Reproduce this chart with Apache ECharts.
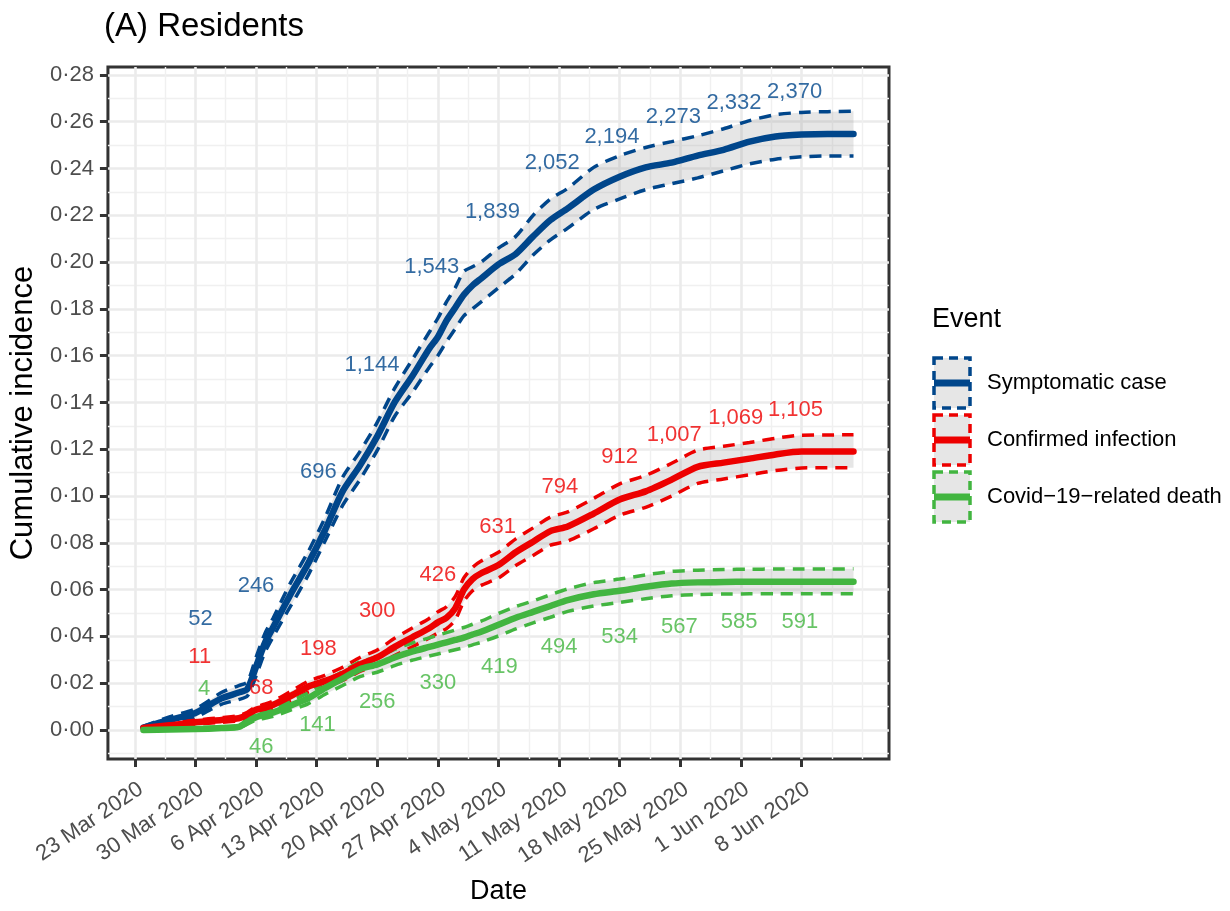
<!DOCTYPE html>
<html>
<head>
<meta charset="utf-8">
<script src="https://cdn.jsdelivr.net/npm/echarts@6/dist/echarts.min.js"></script>
<style>
html, body { margin: 0; padding: 0; background: #fff; }
#main { width: 1230px; height: 911px; }
</style>
</head>
<body>
<div id="main"></div>
<script>
// days since 23 Mar 2020
var days = [1, 4, 7, 10, 12, 13, 14, 15, 16, 18, 20, 22, 24, 26, 28, 30, 32, 34, 35, 36,
            37, 38, 39, 40, 42, 44, 46, 48, 50, 53, 56, 59, 62, 65, 68, 71, 74, 77, 80, 83];

// Symptomatic case
var blueEst = [0.001, 0.0043, 0.0073, 0.0135, 0.016, 0.0175, 0.027, 0.037, 0.044, 0.058,
               0.071, 0.0857, 0.102, 0.113, 0.1255, 0.140, 0.151, 0.163, 0.168, 0.175,
               0.1805, 0.186, 0.190, 0.193, 0.199, 0.2035, 0.211, 0.218, 0.223, 0.231,
               0.2365, 0.2405, 0.2425, 0.2455, 0.248, 0.2515, 0.2537, 0.2545, 0.2548, 0.2548];
var blueLo = [0.0005, 0.003, 0.0055, 0.011, 0.013, 0.0145, 0.023, 0.033, 0.040, 0.053,
              0.066, 0.081, 0.096, 0.107, 0.1195, 0.134, 0.144, 0.155, 0.160, 0.166,
              0.1715, 0.177, 0.180, 0.183, 0.189, 0.195, 0.203, 0.2095, 0.2145, 0.2225,
              0.227, 0.231, 0.2335, 0.236, 0.239, 0.242, 0.244, 0.245, 0.2454, 0.2454];
var blueHi = [0.0015, 0.0056, 0.009, 0.016, 0.019, 0.0205, 0.031, 0.041, 0.048, 0.063,
              0.076, 0.091, 0.108, 0.119, 0.1315, 0.146, 0.158, 0.170, 0.176, 0.183,
              0.189, 0.196, 0.198, 0.200, 0.206, 0.211, 0.220, 0.227, 0.2315, 0.2405,
              0.2455, 0.249, 0.2515, 0.254, 0.257, 0.2605, 0.263, 0.264, 0.2643, 0.2645];

// Confirmed infection
var redEst = [0.0009, 0.002, 0.0033, 0.0043, 0.005, 0.0064, 0.0086, 0.0095, 0.0108, 0.0145,
              0.0185, 0.021, 0.024, 0.028, 0.031, 0.0355, 0.0395, 0.0435, 0.046, 0.048,
              0.052, 0.060, 0.0645, 0.067, 0.0705, 0.076, 0.0805, 0.085, 0.087, 0.0925,
              0.0985, 0.102, 0.107, 0.1125, 0.1143, 0.116, 0.1178, 0.119, 0.119, 0.119];
var redLo = [0.0004, 0.0013, 0.0025, 0.0033, 0.0039, 0.0052, 0.0072, 0.0080, 0.0092, 0.0125,
             0.0162, 0.0185, 0.0212, 0.0250, 0.0278, 0.0318, 0.0355, 0.0393, 0.0415, 0.0433,
             0.0470, 0.0550, 0.0595, 0.0618, 0.0650, 0.0703, 0.0746, 0.0790, 0.0808, 0.0860,
             0.0918, 0.0952, 0.1000, 0.1054, 0.1073, 0.1091, 0.1109, 0.1120, 0.1121, 0.1121];
var redHi = [0.0014, 0.0027, 0.0042, 0.0053, 0.0061, 0.0076, 0.0100, 0.0110, 0.0124, 0.0165,
             0.0208, 0.0235, 0.0268, 0.0310, 0.0342, 0.0392, 0.0435, 0.0477, 0.0505, 0.0527,
             0.0570, 0.0650, 0.0695, 0.0722, 0.0760, 0.0817, 0.0864, 0.0910, 0.0932, 0.0990,
             0.1052, 0.1088, 0.1140, 0.1196, 0.1213, 0.1229, 0.1247, 0.1260, 0.1261, 0.1262];

// Covid-19-related death
var greenEst = [0.0, 0.0002, 0.0004, 0.0008, 0.0013, 0.0035, 0.0055, 0.0065, 0.0075, 0.0105,
                0.0135, 0.018, 0.022, 0.026, 0.028, 0.031, 0.0335, 0.0355, 0.0365, 0.0375,
                0.0385, 0.0395, 0.0408, 0.042, 0.045, 0.048, 0.0505, 0.053, 0.0555, 0.058,
                0.0595, 0.0612, 0.0626, 0.0631, 0.0633, 0.0634, 0.0634, 0.0634, 0.0634, 0.0634];
var greenLo = [0.0, 0.0, 0.0001, 0.0004, 0.0008, 0.0025, 0.0042, 0.0050, 0.0058, 0.0085,
               0.0112, 0.0153, 0.0190, 0.0228, 0.0247, 0.0275, 0.0298, 0.0316, 0.0325, 0.0334,
               0.0343, 0.0352, 0.0364, 0.0375, 0.0402, 0.0432, 0.0458, 0.0482, 0.0507, 0.0530,
               0.0545, 0.0561, 0.0574, 0.0579, 0.0581, 0.0582, 0.0582, 0.0582, 0.0582, 0.0582];
var greenHi = [0.0004, 0.0006, 0.0009, 0.0014, 0.0020, 0.0045, 0.0068, 0.0080, 0.0092, 0.0125,
               0.0158, 0.0207, 0.0250, 0.0292, 0.0313, 0.0345, 0.0372, 0.0394, 0.0405, 0.0416,
               0.0427, 0.0438, 0.0452, 0.0465, 0.0498, 0.0528, 0.0552, 0.0578, 0.0603, 0.0630,
               0.0645, 0.0663, 0.0678, 0.0683, 0.0686, 0.0687, 0.0688, 0.0688, 0.0688, 0.0689];

// weekly counts written on the plot (text, day, height)
var blueLabels = ['52', '246', '696', '1,144', '1,543', '1,839', '2,052', '2,194', '2,273', '2,332', '2,370'];
var blueLabelDay = [7.6, 14.0, 21.2, 27.4, 34.3, 41.3, 48.2, 55.1, 62.2, 69.2, 76.2];
var blueLabelY = [0.0475, 0.0617, 0.1103, 0.1561, 0.198, 0.2214, 0.2424, 0.2535, 0.2621, 0.2679, 0.2726];

var redLabels = ['11', '68', '198', '300', '426', '631', '794', '912', '1,007', '1,069', '1,105'];
var redLabelDay = [7.5, 14.6, 21.2, 28.0, 35.0, 41.9, 49.1, 56.0, 62.3, 69.4, 76.3];
var redLabelY = [0.0313, 0.018, 0.0347, 0.051, 0.0664, 0.0869, 0.1041, 0.1167, 0.1263, 0.1332, 0.137];

var greenLabels = ['4', '46', '141', '256', '330', '419', '494', '534', '567', '585', '591'];
var greenLabelDay = [8.0, 14.6, 21.1, 28.0, 35.0, 42.1, 49.0, 56.0, 62.9, 69.8, 76.8];
var greenLabelY = [0.0176, -0.0073, 0.0021, 0.012, 0.0201, 0.027, 0.0355, 0.0398, 0.0441, 0.046, 0.046];

// axes
var xTicks = [0, 7, 14, 21, 28, 35, 42, 49, 56, 63, 70, 77];
var xTickLabels = ['23 Mar 2020', '30 Mar 2020', '6 Apr 2020', '13 Apr 2020', '20 Apr 2020', '27 Apr 2020',
                   '4 May 2020', '11 May 2020', '18 May 2020', '25 May 2020', '1 Jun 2020', '8 Jun 2020'];
var xMinor = [3.5, 10.5, 17.5, 24.5, 31.5, 38.5, 45.5, 52.5, 59.5, 66.5, 73.5, 80.5, 84];
var yTicks = [0, 0.02, 0.04, 0.06, 0.08, 0.10, 0.12, 0.14, 0.16, 0.18, 0.20, 0.22, 0.24, 0.26, 0.28];
var yMinor = [-0.01, 0.01, 0.03, 0.05, 0.07, 0.09, 0.11, 0.13, 0.15, 0.17, 0.19, 0.21, 0.23, 0.25, 0.27];

var FONT = '"Liberation Sans", Arial, Helvetica, sans-serif';
var BAND = 'rgba(140,140,140,0.22)';
var X_MIN = -3.1, X_MAX = 87.1, Y_MIN = -0.0124, Y_MAX = 0.2834;

var events = [
  {name: 'Symptomatic case', color: '#00468B', est: blueEst, lo: blueLo, hi: blueHi,
   lab: blueLabels, labDay: blueLabelDay, labY: blueLabelY},
  {name: 'Confirmed infection', color: '#ED0000', est: redEst, lo: redLo, hi: redHi,
   lab: redLabels, labDay: redLabelDay, labY: redLabelY},
  {name: 'Covid\u221219\u2212related death', color: '#42B540', est: greenEst, lo: greenLo, hi: greenHi,
   lab: greenLabels, labDay: greenLabelDay, labY: greenLabelY}
];

function pairs(vals) {
  return days.map(function (d, i) { return [d, vals[i]]; });
}

var series = [];
// ribbons
events.forEach(function (ev) {
  series.push({
    type: 'custom', silent: true, z: 1,
    data: [[days[0], ev.lo[0]]],
    encode: {x: 0, y: 1},
    renderItem: function (params, api) {
      var top = days.map(function (d, i) { return api.coord([d, ev.hi[i]]); });
      var bot = days.map(function (d, i) { return api.coord([d, ev.lo[i]]); }).reverse();
      return {type: 'polygon', shape: {points: top.concat(bot)}, style: {fill: BAND}};
    }
  });
});
// dashed bounds
events.forEach(function (ev) {
  [ev.lo, ev.hi].forEach(function (arr) {
    series.push({
      type: 'line', data: pairs(arr), symbol: 'none', smooth: 0.25, z: 2, silent: true,
      lineStyle: {color: ev.color, width: 3.5, type: [12, 8]}
    });
  });
});
// estimates
events.forEach(function (ev) {
  series.push({
    name: ev.name, type: 'line', data: pairs(ev.est), symbol: 'none', smooth: 0.25, z: 3, silent: true,
    lineStyle: {color: ev.color, width: 6.5, cap: 'round', join: 'round'}
  });
});
// count labels
events.forEach(function (ev) {
  series.push({
    type: 'scatter', z: 4, silent: true, symbolSize: 0.1,
    itemStyle: {color: 'rgba(0,0,0,0)'},
    data: ev.lab.map(function (t, i) { return {name: t, value: [ev.labDay[i], ev.labY[i]]}; }),
    label: {show: true, position: 'inside', formatter: '{b}', color: ev.color,
            fontSize: 22, fontFamily: FONT}
  });
});

// legend drawn as graphic keys (dashed ribbon box + thick line)
var legendEls = [{
  type: 'text', left: 932, top: 306,
  style: {text: 'Event', fontSize: 27, fontFamily: FONT, fill: '#000'}
}];
events.forEach(function (ev, i) {
  var cy = 383 + 57 * i;
  legendEls.push({
    type: 'rect', shape: {x: 934, y: cy - 25, width: 36, height: 50},
    style: {fill: '#E6E6E6', stroke: ev.color, lineWidth: 3.5, lineDash: [9, 6]}
  });
  legendEls.push({
    type: 'line', shape: {x1: 934, y1: cy, x2: 970, y2: cy},
    style: {stroke: ev.color, lineWidth: 7}
  });
  legendEls.push({
    type: 'text', x: 987, y: cy,
    style: {text: ev.name, fontSize: 22, fontFamily: FONT, fill: '#000', textVerticalAlign: 'middle'}
  });
});

var option = {
  animation: false,
  backgroundColor: '#fff',
  textStyle: {fontFamily: FONT},
  title: {
    text: '(A) Residents', left: 104, top: 10, padding: 0,
    textStyle: {fontSize: 33, fontWeight: 'normal', color: '#000', fontFamily: FONT}
  },
  grid: {left: 105, right: 341, top: 67, bottom: 152, show: true,
         borderColor: '#333333', borderWidth: 3, backgroundColor: 'rgba(0,0,0,0)'},
  xAxis: [{
    type: 'value', min: X_MIN, max: X_MAX, position: 'bottom',
    name: 'Date', nameLocation: 'middle', nameGap: 119,
    nameTextStyle: {fontSize: 27, color: '#000', fontFamily: FONT},
    axisLine: {show: false, onZero: false},
    axisTick: {show: true, length: 8, customValues: xTicks, lineStyle: {color: '#333333', width: 3}},
    axisLabel: {
      customValues: xTicks, rotate: 34, margin: 19, align: 'right', verticalAlign: 'top',
      fontSize: 22, color: '#4D4D4D', fontFamily: FONT,
      formatter: function (v) { return xTickLabels[xTicks.indexOf(Math.round(v))]; }
    },
    splitLine: {show: true, lineStyle: {color: '#EBEBEB', width: 2.6}}
  }, {
    type: 'value', min: X_MIN, max: X_MAX, position: 'bottom',
    axisLine: {show: false, onZero: false}, axisLabel: {show: false},
    axisTick: {show: false, customValues: xMinor},
    splitLine: {show: true, lineStyle: {color: '#F0F0F0', width: 1.4}}
  }],
  yAxis: [{
    type: 'value', min: Y_MIN, max: Y_MAX, position: 'left',
    name: 'Cumulative incidence', nameLocation: 'middle', nameGap: 64,
    nameTextStyle: {fontSize: 31, color: '#000', fontFamily: FONT},
    axisLine: {show: false, onZero: false},
    axisTick: {show: true, length: 8, customValues: yTicks, lineStyle: {color: '#333333', width: 3}},
    axisLabel: {
      customValues: yTicks, margin: 14, fontSize: 22, color: '#4D4D4D', fontFamily: FONT,
      formatter: function (v) { return v.toFixed(2).replace('.', '\u00B7'); }
    },
    splitLine: {show: true, lineStyle: {color: '#EBEBEB', width: 2.6}}
  }, {
    type: 'value', min: Y_MIN, max: Y_MAX, position: 'left',
    axisLine: {show: false, onZero: false}, axisLabel: {show: false},
    axisTick: {show: false, customValues: yMinor},
    splitLine: {show: true, lineStyle: {color: '#F0F0F0', width: 1.4}}
  }],
  graphic: legendEls,
  series: series
};

var chart = echarts.init(document.getElementById('main'));
chart.setOption(option);
</script>
</body>
</html>
